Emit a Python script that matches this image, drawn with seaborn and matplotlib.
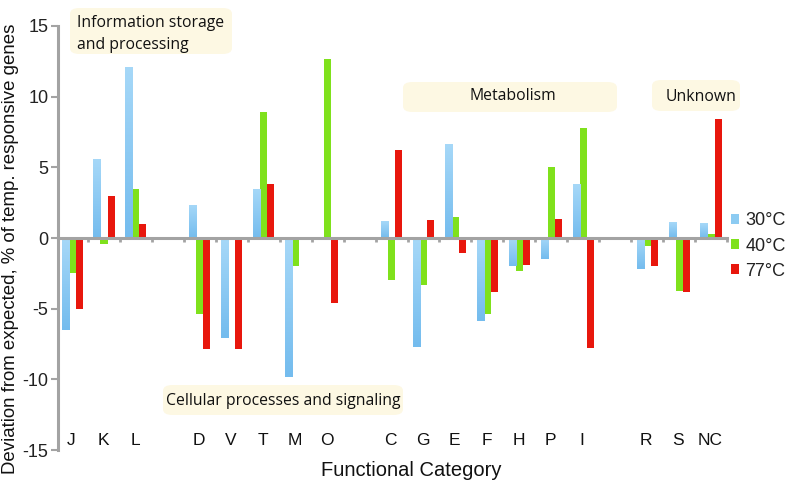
import numpy as np
import pandas as pd
import matplotlib
matplotlib.use("Agg")
import matplotlib.pyplot as plt
from matplotlib.patches import FancyBboxPatch
from matplotlib.colors import LinearSegmentedColormap
import seaborn as sns

# ---- data ----
groups = [["J", "K", "L"],
          ["D", "V", "T", "M", "O"],
          ["C", "G", "E", "F", "H", "P", "I"],
          ["R", "S", "NC"]]
categories = [c for g in groups for c in g]
temps = ["30°C", "40°C", "77°C"]
v30 = [-6.5, 5.6, 12.1, 2.35, -7.05, 3.5, -9.8, -0.1, 1.2, -7.7, 6.65, -5.9, -1.95, -1.5, 3.8, -2.2, 1.1, 1.05]
v40 = [-2.5, -0.45, 3.5, -5.35, -0.1, 8.95, -2.0, 12.7, -3.0, -3.3, 1.5, -5.35, -2.35, 5.0, 7.8, -0.6, -3.75, 0.3]
v77 = [-5.0, 3.0, 1.0, -7.85, -7.85, 3.85, 0.0, -4.6, 6.2, 1.3, -1.05, -3.8, -1.9, 1.35, -7.8, -1.95, -3.8, 8.4]
yticks = [-15, -10, -5, 0, 5, 10, 15]
group_names = ["Information storage\nand processing", "Cellular processes and signaling", "Metabolism", "Unknown"]

df = pd.DataFrame({
    "cat": categories * 3,
    "temp": [t for t in temps for _ in categories],
    "val": v30 + v40 + v77,
})

# slot order with empty spacer slots between groups
order = []
for gi, g in enumerate(groups):
    order += g
    if gi < len(groups) - 1:
        order.append(" " * (gi + 1))

colors = {"30°C": "#8ccbf2", "40°C": "#7fe11c", "77°C": "#e8170d"}

sns.set_style("white")
plt.rcParams["font.family"] = ["Liberation Sans", "DejaVu Sans"]

fig = plt.figure(figsize=(7.89, 4.86), dpi=100)
ax = fig.add_axes([58 / 789, 1 - 450 / 486, (727 - 58) / 789, (450 - 26) / 486])

sns.barplot(data=df, x="cat", y="val", hue="temp", order=order, hue_order=temps,
            palette=colors, width=0.66, gap=0, dodge=True, ax=ax, legend=True,
            saturation=1, edgecolor="none", linewidth=0, zorder=3)

ax.set_ylim(-15, 15)
ax.set_xlim(-0.44, 20.5)

# subtle vertical gradient on the 30°C bars
blue_cmap = LinearSegmentedColormap.from_list("b", ["#74bcee", "#a6d8f8"])
grad = np.linspace(0, 1, 64).reshape(-1, 1)
for bar in ax.containers[0]:
    x0, y0 = bar.get_x(), bar.get_y()
    w, h = bar.get_width(), bar.get_height()
    if h == 0:
        continue
    lo, hi = min(y0, y0 + h), max(y0, y0 + h)
    im = ax.imshow(grad, cmap=blue_cmap, aspect="auto", origin="lower",
                   extent=(x0, x0 + w, lo, hi), zorder=3, interpolation="bilinear")
    im.set_clip_path(bar)
ax.set_xlim(-0.44, 20.5)
ax.set_ylim(-15, 15)

ax.set_yticks(yticks)
ax.set_yticklabels([str(t) for t in yticks], fontsize=13, color="#222222")

grey = "#a3a3a3"
for s in ["top", "right"]:
    ax.spines[s].set_visible(False)
ax.spines["left"].set_color(grey)
ax.spines["left"].set_linewidth(2.2)
ax.spines["bottom"].set_position(("data", 0))
ax.spines["bottom"].set_color(grey)
ax.spines["bottom"].set_linewidth(2.2)
ax.spines["bottom"].set_zorder(4)
ax.tick_params(axis="y", direction="out", length=5, width=1.5, color=grey, pad=2, left=True)
ax.set_xticks(np.arange(0.5, 20.6, 1.0))
ax.set_xticklabels([])
ax.tick_params(axis="x", direction="out", length=3, width=2, color=grey, bottom=True)

# category labels near the bottom
for c in categories:
    xi = order.index(c)
    ax.text(xi - 0.03, -14.35, c, ha="center", va="center", fontsize=12.5, color="#111111")

ax.set_xlabel("")
ax.set_ylabel("Deviation from expected, % of temp. responsive genes", fontsize=13.4, color="#111111")
ax.yaxis.set_label_coords(-39 / 669, (450 - 249) / 424)
fig.text((310 + 513) / 2 / 789, 1 - 470 / 486, "Functional Category", ha="center", va="center",
         fontsize=14.5, color="#111111")

# group label boxes (pixel coordinates -> figure fraction)
def box(x0, y0, x1, y1):
    p = FancyBboxPatch((x0 / 789, 1 - y1 / 486), (x1 - x0) / 789, (y1 - y0) / 486,
                       boxstyle="round,pad=0,rounding_size=0.012", transform=fig.transFigure,
                       fc="#fdf8e3", ec="none", zorder=1)
    fig.patches.append(p)

box(70, 8, 232, 54)
box(403, 82, 617, 112)
box(652, 80, 740, 111)
box(163, 385, 403, 415)

tf = dict(family=["Open Sans", "DejaVu Sans"], fontsize=11.3, color="#111111")
fig.text(77 / 789, 1 - 34 / 486, group_names[0], ha="left", va="center", linespacing=1.45, **tf)
fig.text(283 / 789, 1 - 401 / 486, group_names[1], ha="center", va="center", **tf)
fig.text(513 / 789, 1 - 96 / 486, group_names[2], ha="center", va="center", **tf)
fig.text(701 / 789, 1 - 97 / 486, group_names[3], ha="center", va="center", **tf)

ax.set_facecolor("none")
fig.patch.set_facecolor("white")

leg = ax.legend(loc="center left", bbox_to_anchor=(731 / 789, 1 - 246 / 486),
                bbox_transform=fig.transFigure, frameon=False, fontsize=13,
                handlelength=0.45, handleheight=0.45, handletextpad=0.35, labelspacing=0.45,
                borderaxespad=0, borderpad=0)
for t in leg.get_texts():
    t.set_color("#222222")

fig.savefig("out.png", dpi=100)
